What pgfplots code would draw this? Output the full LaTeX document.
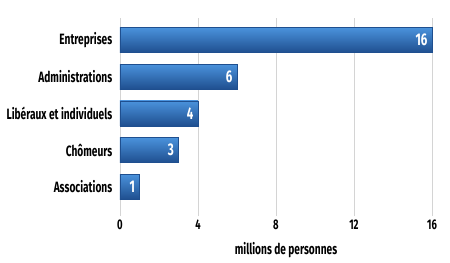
\documentclass[border=0pt]{standalone}
\usepackage{pgfplots}
\pgfplotsset{compat=1.18}
\usepackage{fontspec}
\setmainfont{Fira Sans}[FakeStretch=0.68]
\definecolor{bartop}{HTML}{4A92DC}
\definecolor{barbot}{HTML}{1F4F8F}
\definecolor{gridc}{HTML}{D4D4D4}
\begin{document}
\begin{tikzpicture}
\begin{axis}[
  scale only axis,
  width=312bp, height=198bp,
  xbar, bar width=25bp, bar shift=0pt,
  xmin=0, xmax=16, ymin=0.2, ymax=5.6,
  xtick={0,4,8,12,16},
  ytick={1,2,3,4,5},
  yticklabels={Associations,Chômeurs,Libéraux et individuels,Administrations,Entreprises},
  axis line style={draw=none},
  tick style={draw=none},
  xmajorgrids, major grid style={gridc, line width=0.8pt},
  tick label style={font=\bfseries\fontsize{15}{16}\selectfont, text=black},
  xticklabel style={font=\bfseries\fontsize{14}{15}\selectfont},
  /pgf/number format/assume math mode=true,
  xlabel={millions de personnes},
  xlabel style={font=\bfseries\fontsize{15}{16}\selectfont, yshift=-6bp, xshift=10bp},
  nodes near coords,
  every node near coord/.append style={anchor=east, text=white, font=\bfseries\fontsize{17}{18}\selectfont, xshift=-1bp},
  clip=false,
]
\addplot[draw=barbot, line width=0.6pt, top color=bartop, bottom color=barbot] coordinates {(1,1)};
\addplot[draw=barbot, line width=0.6pt, top color=bartop, bottom color=barbot] coordinates {(3,2)};
\addplot[draw=barbot, line width=0.6pt, top color=bartop, bottom color=barbot] coordinates {(4,3)};
\addplot[draw=barbot, line width=0.6pt, top color=bartop, bottom color=barbot] coordinates {(6,4)};
\addplot[draw=barbot, line width=0.6pt, top color=bartop, bottom color=barbot] coordinates {(16,5)};
\end{axis}
\pgfresetboundingbox
\path[use as bounding box] (-120bp,-47bp) rectangle (330bp,216bp);
\end{tikzpicture}
\end{document}
